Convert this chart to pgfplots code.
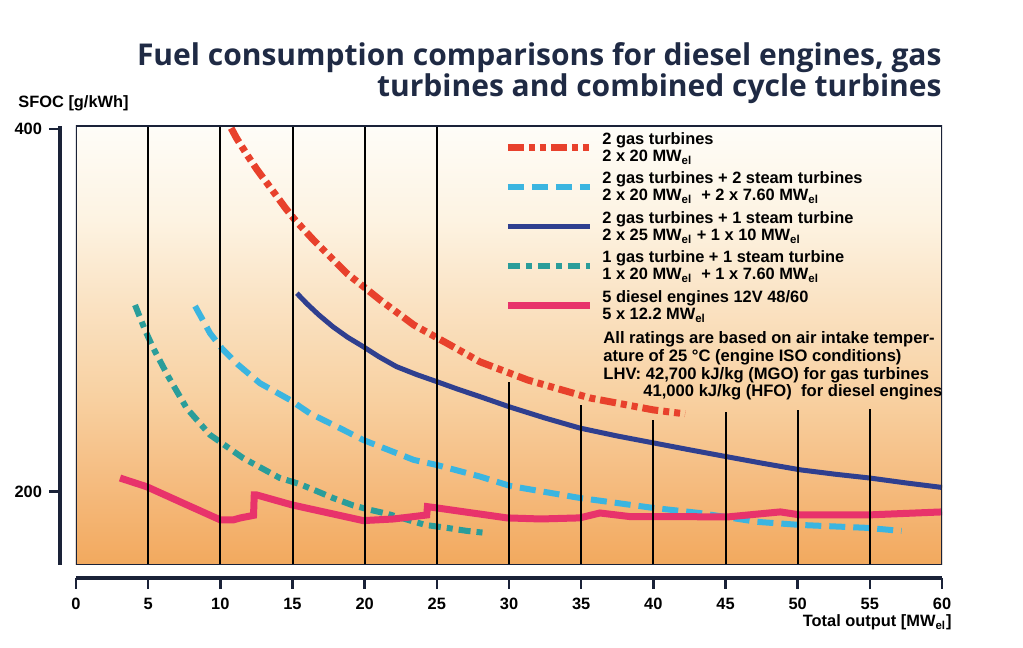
\documentclass[border=0pt]{standalone}
\usepackage{pgfplots}
\pgfplotsset{compat=1.18}
\usepackage{fontspec}
\setmainfont{Liberation Sans}
\newfontfamily\titlefont{Open Sans}
\definecolor{c1}{HTML}{F2A95E}
\definecolor{c2}{HTML}{F5BC80}
\definecolor{c3}{HTML}{F8D0A0}
\definecolor{c4}{HTML}{FAE3C4}
\definecolor{c5}{HTML}{FDF3E2}
\definecolor{c6}{HTML}{FEFDF8}
\definecolor{redc}{HTML}{E8412C}
\definecolor{lbluec}{HTML}{3BB5E0}
\definecolor{dbluec}{HTML}{2F3F8F}
\definecolor{tealc}{HTML}{2A9D9A}
\definecolor{pinkc}{HTML}{E8336B}
\definecolor{axc}{HTML}{1A2238}
\definecolor{titlec}{HTML}{1F2A44}
\pgfdeclareverticalshading{bgshade}{100bp}{color(0bp)=(c1); color(25bp)=(c1); color(34.7bp)=(c2); color(43.8bp)=(c3); color(55.2bp)=(c4); color(64.3bp)=(c5); color(75bp)=(c6); color(100bp)=(c6)}
\newcommand{\sm}{\bfseries\fontsize{8.2}{8.6}\selectfont}
\newcommand{\nt}{\bfseries\fontsize{8.3}{8.9}\selectfont}
\begin{document}
\begin{tikzpicture}
\path[use as bounding box] (0,0) rectangle (511.5pt,324pt);
\begin{axis}[
  at={(38pt,41.5pt)}, anchor=south west,
  scale only axis, width=433pt, height=219.5pt,
  xmin=0, xmax=60, ymin=159.4, ymax=401.7,
  axis x line*=bottom, axis y line*=left,
  x axis line style={line width=2.4pt, color=axc, yshift=-6.5pt},
  y axis line style={line width=2pt, color=axc, xshift=-8pt},
  xtick={0,5,...,60}, ytick={200,400},
  tick align=outside, major tick length=5.5pt,
  xtick style={line width=1.2pt, color=axc, yshift=-6.5pt},
  ytick style={line width=1.2pt, color=axc, xshift=-8pt},
  xticklabel style={yshift=-7.5pt},
  yticklabel style={xshift=-8pt},
  /pgf/number format/assume math mode=true,
  ticklabel style={font=\sm},
  axis background/.style={shading=bgshade},
  legend style={at={(rel axis cs:0.4942,0.9955)}, anchor=north west,
    draw=none, fill=none, inner sep=0pt, font=\sm, row sep=-0.3pt, column sep=2.5pt,
    cells={anchor=west, align=left}},
  legend cell align=left,
  legend image code/.code={\draw[#1] (0pt,0.6pt) -- (41pt,0.6pt);},
]
\addplot[redc, line width=3.5pt, dash pattern=on 8pt off 2.5pt on 3pt off 2.5pt on 3pt off 2.5pt] coordinates {
(10.75,400.5) (11.13,394.9) (11.94,384.7) (12.56,377.4) (13.56,366.7) (14.53,356.2) (15.18,349.8) (16.45,338.8) (18.76,320.4) (21.07,305.7) (23.4,291.9) (25.7,281.8) (28,271.5) (31.3,261.5) (35.6,251.6) (40,245) (42.2,242.8)};
\addlegendentry{2 gas turbines\\2 x 20 MW\textsubscript{el}}
\addplot[lbluec, line width=3pt, dash pattern=on 8pt off 4pt] coordinates {
(8.25,302.3) (9.29,287.3) (10.1,279) (11.25,269.8) (12.75,259.7) (14.83,250.5) (16.2,243.1) (18.07,235.8) (19.9,228.4) (23.4,217.4) (25,214.6) (28,208.2) (30.1,203) (34.9,196.4) (40,190.9) (43.2,188.1) (47.2,183.2) (50.2,181.5) (54.8,179.9) (57.2,178.2)};
\addlegendentry{2 gas turbines + 2 steam turbines\\2 x 20 MW\textsubscript{el}\ \ + 2 x 7.60 MW\textsubscript{el}}
\addplot[dbluec, line width=2.5pt] coordinates {
(15.3,309.4) (16,303.6) (16.8,297.6) (17.8,290.9) (18.8,285.2) (19.9,279.9) (21,274.3) (22.2,268.9) (23.6,264.5) (25,260.6) (26.5,256.3) (28,252.3) (30.1,246.5) (32.5,240.5) (34.9,235) (37.5,230.6) (40,226.8) (42.5,223) (45,219.3) (47.6,215.5) (50.2,211.9) (52.6,209.5) (55,207.4) (57.5,204.7) (60,202.2)};
\addlegendentry{2 gas turbines + 1 steam turbine\\2 x 25 MW\textsubscript{el} + 1 x 10 MW\textsubscript{el}}
\addplot[tealc, line width=3pt, dash pattern=on 6pt off 3pt on 3pt off 3pt] coordinates {
(4.09,302.9) (4.78,289.1) (5.36,279) (6.4,263.3) (7.67,245.9) (9.29,231.2) (11.6,218.3) (14.1,207.5) (15.45,204.2) (16.5,200.8) (17.8,196.4) (19.2,192.3) (20.4,189.8) (21.6,187.6) (24.2,181.5) (25.7,179.9) (27.1,178.2) (28.4,177.1)};
\addlegendentry{1 gas turbine + 1 steam turbine\\1 x 20 MW\textsubscript{el}\ \ + 1 x 7.60 MW\textsubscript{el}}
\addplot[pinkc, line width=3.5pt] coordinates {
(3.05,207.4) (4.9,202.6) (7.43,193.5) (10,184.3) (10.9,184.3) (11.4,185.4) (12.3,186.8) (12.35,198.1) (12.5,198.1) (14.95,192.6) (19.9,183.9) (22,184.8) (24.3,187) (24.35,191.6) (25,190.9) (29.85,185.4) (32.2,184.8) (34.9,185.4) (36.3,188.1) (38.4,186.1) (41.9,186.1) (45.1,185.9) (48.8,188.7) (50.2,187) (54.8,187) (60,188.7)};
\addlegendentry{5 diesel engines 12V 48/60\\5 x 12.2 MW\textsubscript{el}}
\addplot[black, line width=1pt, ycomb, forget plot] coordinates {
(5,402) (10,402) (15,402) (20,402) (25,402) (30,260.5) (35,247.7) (40,239.4) (45,244) (50,245) (55,245.5)};
\draw[axc, line width=1.3pt] (rel axis cs:0,0) rectangle (rel axis cs:1,1);
\end{axis}
\node[anchor=north west, inner sep=0pt, align=left, font=\nt] at (301.5pt,158.5pt)
 {All ratings are based on air intake temper-\\ature of 25 °C (engine ISO conditions)\\LHV: 42,700 kJ/kg (MGO) for gas turbines\\\hspace*{20pt}41,000 kJ/kg (HFO)\ \ for diesel engines};
\node[anchor=west, inner sep=0pt, font=\sm] at (9pt,272.5pt) {SFOC [g/kWh]};
\node[anchor=east, inner sep=0pt, font=\sm] at (476pt,13pt) {Total output [MW\textsubscript{el}]};
\node[anchor=base east, inner sep=0pt, align=right, text=titlec, font=\titlefont\bfseries\fontsize{15}{15.5}\selectfont] at (471pt,275.5pt)
 {Fuel consumption comparisons for diesel engines, gas\\turbines and combined cycle turbines};
\end{tikzpicture}
\end{document}
